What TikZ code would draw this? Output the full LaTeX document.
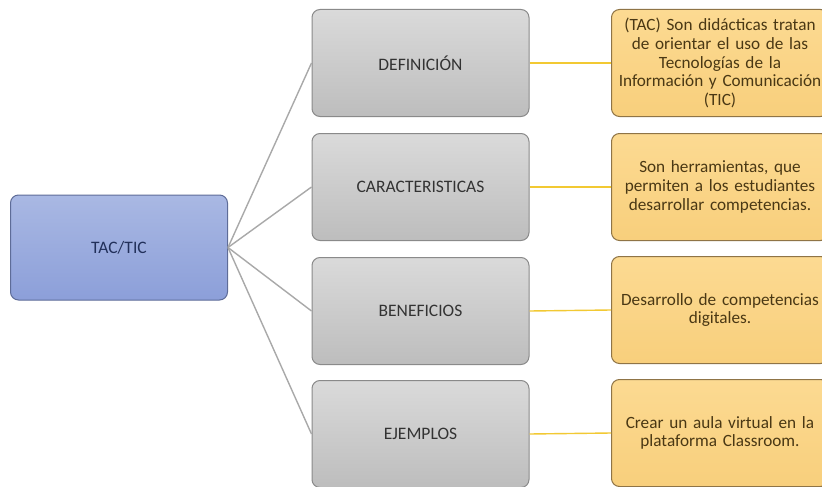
\documentclass[tikz,border=0pt]{standalone}
\usepackage{fontspec}
\setmainfont{Carlito}
\definecolor{rootfill1}{HTML}{A9B8E3}
\definecolor{rootfill2}{HTML}{8C9FD9}
\definecolor{rootline}{HTML}{5E6C98}
\definecolor{rootext}{HTML}{22305A}
\definecolor{grayfill1}{HTML}{DADADA}
\definecolor{grayfill2}{HTML}{BDBDBD}
\definecolor{grayline}{HTML}{8A8A8A}
\definecolor{infofill1}{HTML}{FCDA92}
\definecolor{infofill2}{HTML}{F8CF7C}
\definecolor{infoline}{HTML}{8F7446}
\definecolor{infotext}{HTML}{4A3814}
\definecolor{branchcol}{HTML}{A9A9A9}
\definecolor{linkcol}{HTML}{F2C933}
\begin{document}
\begin{tikzpicture}
[
    x=1pt, y=-1pt,
    mybox/.style={rectangle,rounded corners=8pt,minimum width=217pt,minimum height=107pt,align=center,font=\fontsize{17.5}{18.6}\selectfont},
    root/.style={mybox,draw=rootline,line width=1pt,top color=rootfill1,bottom color=rootfill2,text=rootext,minimum height=105pt},
    topic/.style={mybox,draw=grayline,line width=1pt,top color=grayfill1,bottom color=grayfill2,text=black!80},
    info/.style={mybox,draw=infoline,line width=1pt,top color=infofill1,bottom color=infofill2,text=infotext,inner xsep=0.5pt,text width=216pt,minimum width=217pt,font=\fontsize{17.2}{18.6}\selectfont},
    branch/.style={draw=branchcol,line width=1.4pt},
    link/.style={draw=linkcol,line width=1.4pt},
]

\clip (0,0) rectangle (822,487);
\fill[white] (0,0) rectangle (822,487);

\node (tac) at (119,247.5) [root] {TAC/TIC};

\node (def) at (420.5,63) [topic] {DEFINICIÓN};
\node (car) at (420.5,187) [topic] {CARACTERISTICAS};
\node (ben) at (420.5,311) [topic] {BENEFICIOS};
\node (eje) at (420.5,434) [topic] {EJEMPLOS};

\node (tdef) at (720,63) [info] {(TAC) Son didácticas tratan\\de orientar el uso de las\\Tecnologías de la\\Información y Comunicación\\(TIC)};
\node (tcar) at (720,187) [info] {Son herramientas, que\\permiten a los estudiantes\\desarrollar competencias.};
\node (tben) at (720,310) [info] {Desarrollo de competencias\\digitales.};
\node (teje) at (720,433) [info] {Crear un aula virtual en la\\plataforma Classroom.};

\draw[branch] (tac.east) -- (def.west);
\draw[branch] (tac.east) -- (car.west);
\draw[branch] (tac.east) -- (ben.west);
\draw[branch] (tac.east) -- (eje.west);

\draw[link] (def.east) -- (tdef.west);
\draw[link] (car.east) -- (tcar.west);
\draw[link] (ben.east) -- (tben.west);
\draw[link] (eje.east) -- (teje.west);
\end{tikzpicture}
\end{document}
